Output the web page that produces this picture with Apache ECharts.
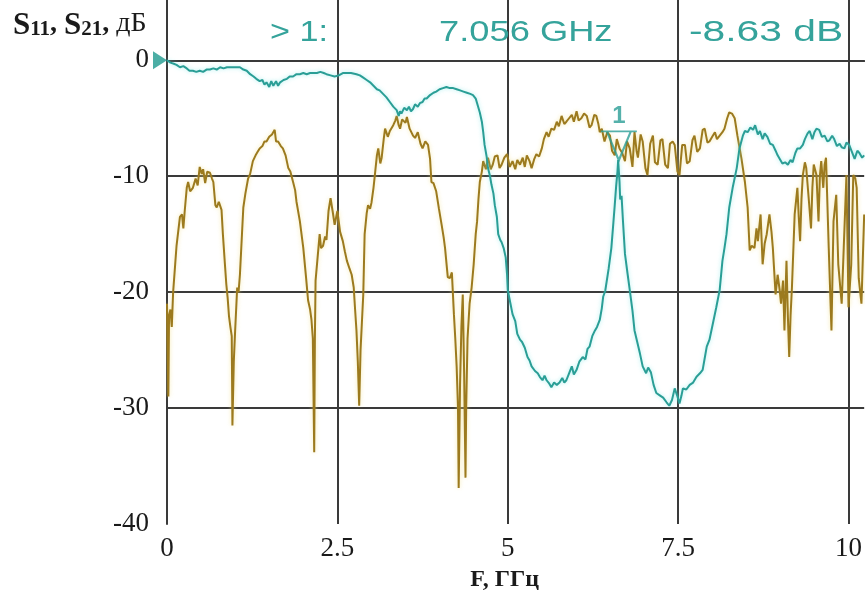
<!DOCTYPE html>
<html>
<head>
<meta charset="utf-8">
<title>S11, S21</title>
<script src="https://cdn.jsdelivr.net/npm/echarts@6/dist/echarts.min.js"></script>
<style>
  html, body { margin: 0; padding: 0; background: #fff; }
  #chart { width: 865px; height: 597px; }
</style>
</head>
<body>
<div id="chart"></div>
<script>
// S11 (olive trace)
var s11Freq = [0.00,0.01,0.02,0.03,0.05,0.07,0.09,0.12,0.14,0.16,0.19,0.22,0.24,0.26,0.29,0.31,0.34,0.38,0.42,0.45,0.48,0.51,0.53,0.56,0.59,0.63,0.66,0.68,0.71,0.73,0.76,0.80,0.82,0.85,0.87,0.89,0.91,0.93,0.95,0.96,0.98,1.00,1.03,1.05,1.07,1.10,1.12,1.15,1.19,1.22,1.26,1.30,1.33,1.36,1.40,1.43,1.46,1.50,1.54,1.58,1.60,1.63,1.67,1.70,1.74,1.78,1.81,1.85,1.88,1.90,1.95,2.00,2.04,2.07,2.10,2.12,2.14,2.16,2.17,2.18,2.21,2.24,2.26,2.29,2.32,2.34,2.37,2.40,2.43,2.46,2.50,2.54,2.58,2.61,2.64,2.68,2.71,2.74,2.76,2.78,2.80,2.82,2.84,2.86,2.88,2.90,2.93,2.95,2.98,3.00,3.03,3.05,3.08,3.10,3.13,3.15,3.18,3.20,3.24,3.27,3.32,3.35,3.37,3.40,3.42,3.45,3.47,3.50,3.52,3.56,3.58,3.61,3.64,3.68,3.72,3.75,3.79,3.83,3.86,3.88,3.91,3.95,3.99,4.03,4.06,4.08,4.12,4.15,4.18,4.21,4.23,4.25,4.27,4.28,4.30,4.32,4.34,4.36,4.38,4.39,4.41,4.44,4.47,4.50,4.53,4.55,4.57,4.59,4.62,4.64,4.68,4.71,4.75,4.78,4.81,4.85,4.88,4.91,4.95,4.99,5.03,5.07,5.11,5.14,5.18,5.22,5.25,5.28,5.32,5.35,5.39,5.42,5.46,5.50,5.53,5.57,5.60,5.64,5.68,5.72,5.75,5.79,5.83,5.86,5.90,5.94,5.97,6.01,6.04,6.08,6.12,6.16,6.20,6.23,6.27,6.30,6.33,6.35,6.38,6.42,6.46,6.50,6.53,6.57,6.60,6.64,6.68,6.72,6.75,6.79,6.83,6.86,6.89,6.91,6.95,6.98,7.02,7.05,7.09,7.13,7.16,7.20,7.24,7.27,7.31,7.35,7.38,7.42,7.45,7.49,7.52,7.56,7.60,7.63,7.67,7.71,7.74,7.78,7.82,7.86,7.89,7.93,7.96,8.00,8.04,8.07,8.11,8.15,8.18,8.22,8.25,8.29,8.33,8.37,8.40,8.43,8.48,8.52,8.55,8.58,8.62,8.65,8.67,8.71,8.74,8.77,8.80,8.84,8.87,8.89,8.93,8.96,8.99,9.01,9.04,9.06,9.09,9.11,9.13,9.15,9.17,9.21,9.25,9.27,9.29,9.31,9.33,9.36,9.38,9.42,9.45,9.47,9.49,9.53,9.56,9.58,9.60,9.63,9.65,9.67,9.71,9.75,9.78,9.82,9.85,9.90,9.93,9.97,10.00,10.04,10.07,10.10,10.12,10.15,10.19,10.23];
var s11Db = [-21,-25,-29,-22,-21.5,-23,-20,-17.6,-16,-15,-13.5,-13.3,-14.5,-13,-11,-10.5,-11.3,-11,-10.2,-10.8,-9.2,-9.8,-9.4,-10.6,-9.6,-9.7,-10.2,-10.5,-12.5,-12.7,-12.2,-12.9,-15,-17.6,-19.3,-20.5,-22.1,-23,-23.8,-31.5,-26,-23.3,-19.6,-20,-18.5,-15,-12.7,-11.5,-10.2,-9.8,-8.7,-8.2,-7.9,-7.6,-7.4,-7,-7,-6.6,-6.4,-6,-7,-7,-7.4,-7.6,-8.2,-9.3,-9.6,-10.5,-11.2,-12.2,-13.9,-16.2,-18.7,-20.7,-21.5,-22.4,-24,-33.8,-24,-19,-17,-15,-16.2,-16,-15.2,-15.5,-13,-11.9,-13,-14.2,-13,-14.8,-15.6,-16.5,-17.3,-18,-18.5,-19.6,-21.5,-23.3,-26,-29.8,-25,-22.6,-20.2,-15,-13.2,-12.5,-12.8,-12.3,-11,-9.9,-8.2,-7.6,-8.9,-8.4,-6.8,-5.9,-6.6,-6.1,-5.6,-5.2,-4.8,-5.6,-5.9,-5.1,-5,-5.4,-4.9,-5.9,-5.8,-6.5,-6.7,-6.2,-7.2,-7.6,-7,-7.3,-8.5,-10.5,-10.6,-11.3,-12.8,-14.2,-15.3,-16.2,-18.7,-18.8,-18.3,-21.9,-24,-26.4,-30,-36.9,-28,-23,-20.2,-27,-36,-30,-24,-21,-19.6,-17.6,-15,-13.9,-12,-10.5,-9.6,-8.7,-9.4,-8.4,-9.4,-9,-8.3,-8.2,-9.3,-9,-8.4,-8.1,-9.2,-8.7,-9.4,-8.6,-9,-8.4,-9.2,-8.2,-8.7,-9.3,-8.5,-8.1,-8.3,-7.6,-6.8,-6.2,-6.6,-5.9,-6,-5.3,-5.7,-4.8,-5.5,-5.3,-5,-4.7,-5.3,-4.4,-5.2,-5,-4.6,-4.8,-5.8,-5.6,-4.7,-4.8,-5.5,-6.2,-5.9,-7,-6.2,-6.5,-7.8,-8.2,-6.8,-7.6,-8,-8.7,-7,-7.6,-9.2,-6.2,-7.8,-8.4,-6.4,-7,-9.3,-9.9,-7.2,-6.5,-8.8,-9,-6.9,-6.8,-9,-9.3,-7.2,-7,-7.3,-9.6,-9.9,-7.3,-7.3,-8.9,-8.7,-6.9,-6.5,-7.9,-7.6,-6,-5.9,-7.1,-7,-6.6,-6.2,-6.8,-6.5,-6.2,-5.9,-5,-4.5,-4.6,-5,-6.5,-7.5,-8.5,-10.5,-12.7,-16.4,-16,-16.2,-14.5,-15.6,-13.3,-17.6,-15.8,-15,-13.3,-14.8,-16.2,-20.2,-18.5,-19.8,-21,-19,-23.3,-17.3,-22,-25.6,-22,-19.6,-13.3,-11,-13.5,-15.6,-12,-9.9,-8.8,-9.3,-12.2,-14.5,-11,-9,-9.9,-13.9,-10,-8.7,-11,-9,-8.4,-16.2,-23.3,-13.9,-11.6,-17.6,-21,-16.2,-9.9,-21.3,-17.6,-9.9,-10.2,-11,-18.8,-21,-13.3];

// S21 (teal trace)
var s21Freq = [0.00,0.05,0.10,0.14,0.19,0.24,0.29,0.33,0.38,0.43,0.48,0.53,0.58,0.63,0.68,0.73,0.78,0.83,0.88,0.93,0.98,1.03,1.07,1.12,1.17,1.22,1.27,1.31,1.36,1.40,1.43,1.46,1.50,1.53,1.56,1.60,1.63,1.66,1.71,1.76,1.80,1.85,1.90,1.95,2.00,2.05,2.10,2.15,2.20,2.25,2.30,2.34,2.40,2.46,2.52,2.58,2.64,2.70,2.78,2.83,2.88,2.93,2.98,3.03,3.08,3.12,3.17,3.22,3.27,3.32,3.37,3.40,3.42,3.44,3.48,3.52,3.55,3.58,3.61,3.64,3.68,3.71,3.75,3.78,3.81,3.86,3.91,3.95,4.00,4.05,4.10,4.15,4.20,4.25,4.30,4.35,4.40,4.45,4.49,4.53,4.56,4.59,4.62,4.64,4.66,4.69,4.71,4.74,4.76,4.79,4.81,4.84,4.86,4.89,4.91,4.94,4.97,4.99,5.00,5.04,5.07,5.11,5.14,5.18,5.21,5.25,5.29,5.32,5.35,5.40,5.44,5.47,5.51,5.54,5.57,5.61,5.64,5.68,5.72,5.76,5.80,5.83,5.86,5.90,5.94,5.97,6.01,6.05,6.10,6.14,6.17,6.20,6.24,6.28,6.31,6.35,6.38,6.40,6.43,6.45,6.48,6.52,6.55,6.57,6.59,6.61,6.62,6.64,6.65,6.67,6.69,6.72,6.76,6.79,6.83,6.86,6.90,6.94,6.98,7.03,7.06,7.10,7.14,7.18,7.23,7.28,7.33,7.37,7.41,7.45,7.49,7.52,7.55,7.57,7.62,7.67,7.72,7.77,7.82,7.86,7.89,7.92,7.96,8.01,8.06,8.11,8.15,8.18,8.21,8.25,8.30,8.36,8.40,8.45,8.48,8.52,8.56,8.60,8.63,8.67,8.70,8.74,8.77,8.81,8.85,8.89,8.93,8.96,9.00,9.03,9.07,9.11,9.15,9.18,9.22,9.25,9.29,9.33,9.36,9.40,9.43,9.47,9.50,9.53,9.57,9.61,9.65,9.69,9.72,9.76,9.79,9.83,9.87,9.90,9.94,9.97,10.01,10.05,10.09,10.13,10.16,10.20,10.23];
var s21Db = [0,-0.2,-0.3,-0.4,-0.6,-0.5,-0.7,-0.9,-0.9,-1,-0.9,-1,-0.8,-0.8,-0.7,-0.8,-0.6,-0.7,-0.6,-0.6,-0.6,-0.6,-0.6,-0.8,-0.9,-1.2,-1.4,-1.6,-1.8,-1.7,-2.1,-1.9,-2.3,-1.8,-2.2,-1.8,-2.2,-1.9,-1.7,-1.6,-1.4,-1.4,-1.2,-1.2,-1.1,-1.2,-1.1,-1.1,-1.1,-1,-1.1,-1.2,-1.3,-1.4,-1.3,-1.1,-1.1,-1.1,-1.2,-1.3,-1.5,-1.7,-1.9,-2.2,-2.5,-2.6,-2.9,-3.2,-3.6,-4,-4.3,-4.8,-4.4,-4.6,-4.1,-4.3,-4,-4.4,-4.2,-3.8,-4,-3.7,-3.6,-3.3,-3.3,-3,-2.8,-2.7,-2.5,-2.4,-2.3,-2.4,-2.4,-2.5,-2.6,-2.7,-2.8,-2.9,-3,-3.3,-3.9,-4.5,-5.3,-6.2,-7.3,-8.3,-9.3,-10,-10.7,-11.5,-12.5,-13.5,-15,-15.5,-15.7,-16.2,-17,-18.5,-19.8,-21,-21.9,-22.5,-23.6,-24.1,-24.3,-24.8,-25.6,-25.9,-26.4,-26.8,-27,-27.3,-27.6,-27.2,-27.6,-27.9,-28.2,-27.8,-28,-27.8,-27.4,-27.8,-27.6,-27,-26.4,-27.1,-26.7,-26,-25.6,-25.8,-24.9,-24.7,-23.8,-23.3,-23,-22.4,-21.4,-20.4,-19.9,-19.8,-18,-16.2,-14,-12.5,-10.9,-9.6,-8.6,-10.5,-12,-11.7,-13.8,-16.7,-18.5,-19.8,-21.6,-23.3,-24.3,-25.3,-26.4,-27,-26.5,-26.9,-28,-28.7,-28.9,-29.1,-29.5,-29.8,-29.3,-28.3,-29,-29.6,-28.9,-28.3,-28.4,-28,-27.8,-27.3,-27,-26.7,-25.7,-24.7,-24.1,-22.7,-21.3,-19.8,-17.3,-16.2,-15,-12.7,-11,-9.3,-7.6,-6.5,-6.1,-6.2,-5.8,-6,-5.6,-6.4,-6.1,-6.8,-6.3,-6.6,-7.2,-7.3,-7.8,-8.2,-8.6,-8.9,-8.8,-9,-8.6,-8.8,-8,-7.6,-7.6,-7.3,-6.8,-6.3,-6.1,-6.8,-6.2,-5.9,-6,-6.6,-6.5,-7,-6.9,-6.5,-6.8,-7.4,-7.2,-7.5,-7.6,-7.1,-7.3,-7.9,-8.5,-7.8,-8,-8.4,-8.2];

// marker 1 and readout
var markerFreq = 6.63;
var markerDb = -8.63;
var readoutTexts = ['> 1:', '7.056 GHz', '-8.63 dB'];

// axes
var xTicks = [0, 2.5, 5, 7.5, 10];
var yTicks = [-40, -30, -20, -10, 0];

var teal = '#2a9e96';
var olive = '#9c7a1e';
var gridColor = '#3a3a3a';

function pairs(xs, ys) {
  var out = [];
  for (var i = 0; i < xs.length; i++) out.push([xs[i], ys[i]]);
  return out;
}

var chart = echarts.init(document.getElementById('chart'));

var option = {
  backgroundColor: '#fff',
  animation: false,
  grid: { left: 167, right: 0, top: 0, bottom: 68 },
  xAxis: {
    type: 'value',
    min: 0,
    max: 10.23,
    interval: 2.5,
    name: 'F, ГГц',
    nameLocation: 'middle',
    nameGap: 44,
    nameTextStyle: {
      fontFamily: 'Liberation Serif', fontWeight: 'bold', fontSize: 24,
      color: '#1a1a1a', padding: [0, 22, 0, 0]
    },
    axisLine: { lineStyle: { color: gridColor, width: 2 } },
    axisTick: { show: false },
    axisLabel: {
      fontFamily: 'Liberation Serif', fontSize: 27, color: '#1a1a1a', margin: 11,
      showMaxLabel: false,
      formatter: function (v) { return xTicks.indexOf(v) >= 0 ? String(v) : ''; }
    },
    splitLine: { show: true, showMinLine: false, showMaxLine: false, lineStyle: { color: gridColor, width: 2 } }
  },
  yAxis: {
    type: 'value',
    min: -40,
    max: 5.2,
    interval: 10,
    axisLine: { show: true, lineStyle: { color: gridColor, width: 2 } },
    axisTick: { show: false },
    axisLabel: {
      fontFamily: 'Liberation Serif', fontSize: 27, color: '#1a1a1a', margin: 18,
      showMaxLabel: false,
      formatter: function (v) { return yTicks.indexOf(v) >= 0 ? String(v) : ''; }
    },
    splitLine: { show: true, showMinLine: false, showMaxLine: false, lineStyle: { color: gridColor, width: 2 } }
  },
  graphic: [
    {
      type: 'text', x: 13, y: 10, z: 10,
      style: {
        text: '{s|S}{b|11}{c|, }{s|S}{b|21}{c|, }{d|дБ}',
        verticalAlign: 'top',
        rich: {
          s: { fontFamily: 'Liberation Serif', fontWeight: 'bold', fontSize: 31, lineHeight: 30, verticalAlign: 'top', fill: '#1a1a1a' },
          b: { fontFamily: 'Liberation Serif', fontWeight: 'bold', fontSize: 21, lineHeight: 20, padding: [13, 0, 0, 0], verticalAlign: 'bottom', fill: '#1a1a1a' },
          c: { fontFamily: 'Liberation Serif', fontWeight: 'bold', fontSize: 28, lineHeight: 30, verticalAlign: 'top', fill: '#1a1a1a' },
          d: { fontFamily: 'Liberation Serif', fontSize: 28, lineHeight: 30, verticalAlign: 'top', fill: '#1a1a1a' }
        }
      }
    },
    {
      type: 'text', x: 270, y: 33, scaleX: 1.14, z: 10,
      style: { text: readoutTexts[0], fontFamily: 'Liberation Sans', fontSize: 30, fill: '#35a39b', verticalAlign: 'middle' }
    },
    {
      type: 'text', x: 439, y: 33, scaleX: 1.21, z: 10,
      style: { text: readoutTexts[1], fontFamily: 'Liberation Sans', fontSize: 30, fill: '#35a39b', verticalAlign: 'middle' }
    },
    {
      type: 'text', x: 689, y: 33, scaleX: 1.36, z: 10,
      style: { text: readoutTexts[2], fontFamily: 'Liberation Sans', fontSize: 30, fill: '#35a39b', verticalAlign: 'middle' }
    }
  ],
  series: [
    {
      name: 'S11',
      type: 'line',
      data: pairs(s11Freq, s11Db),
      showSymbol: false,
      lineStyle: { color: olive, width: 2, shadowColor: 'rgba(240,220,120,0.6)', shadowBlur: 4 },
      z: 2
    },
    {
      name: 'S21',
      type: 'line',
      data: pairs(s21Freq, s21Db),
      showSymbol: false,
      lineStyle: { color: teal, width: 2, shadowColor: 'rgba(120,230,230,0.6)', shadowBlur: 4 },
      z: 3
    },
    {
      name: 'marker',
      type: 'scatter',
      clip: false,
      data: [[markerFreq, markerDb]],
      symbol: 'path://M0,0 L36,0 L30,0 L18,29 L6,0 Z',
      symbolSize: [36, 29],
      symbolOffset: [0, -14.5],
      itemStyle: { color: 'rgba(0,0,0,0)', borderColor: teal, borderWidth: 2 },
      label: {
        show: true, position: 'top', distance: 2, formatter: '1',
        fontFamily: 'Liberation Sans', fontWeight: 'bold', fontSize: 24, color: teal
      },
      z: 4
    },
    {
      name: 'ref',
      type: 'scatter',
      clip: false,
      data: [[0, 0]],
      symbol: 'path://M0,0 L14,9 L0,18 Z',
      symbolSize: [14, 18],
      symbolOffset: [-7, 0],
      itemStyle: { color: '#1f9a8f' },
      z: 4
    }
  ]
};

chart.setOption(option);
</script>
</body>
</html>
